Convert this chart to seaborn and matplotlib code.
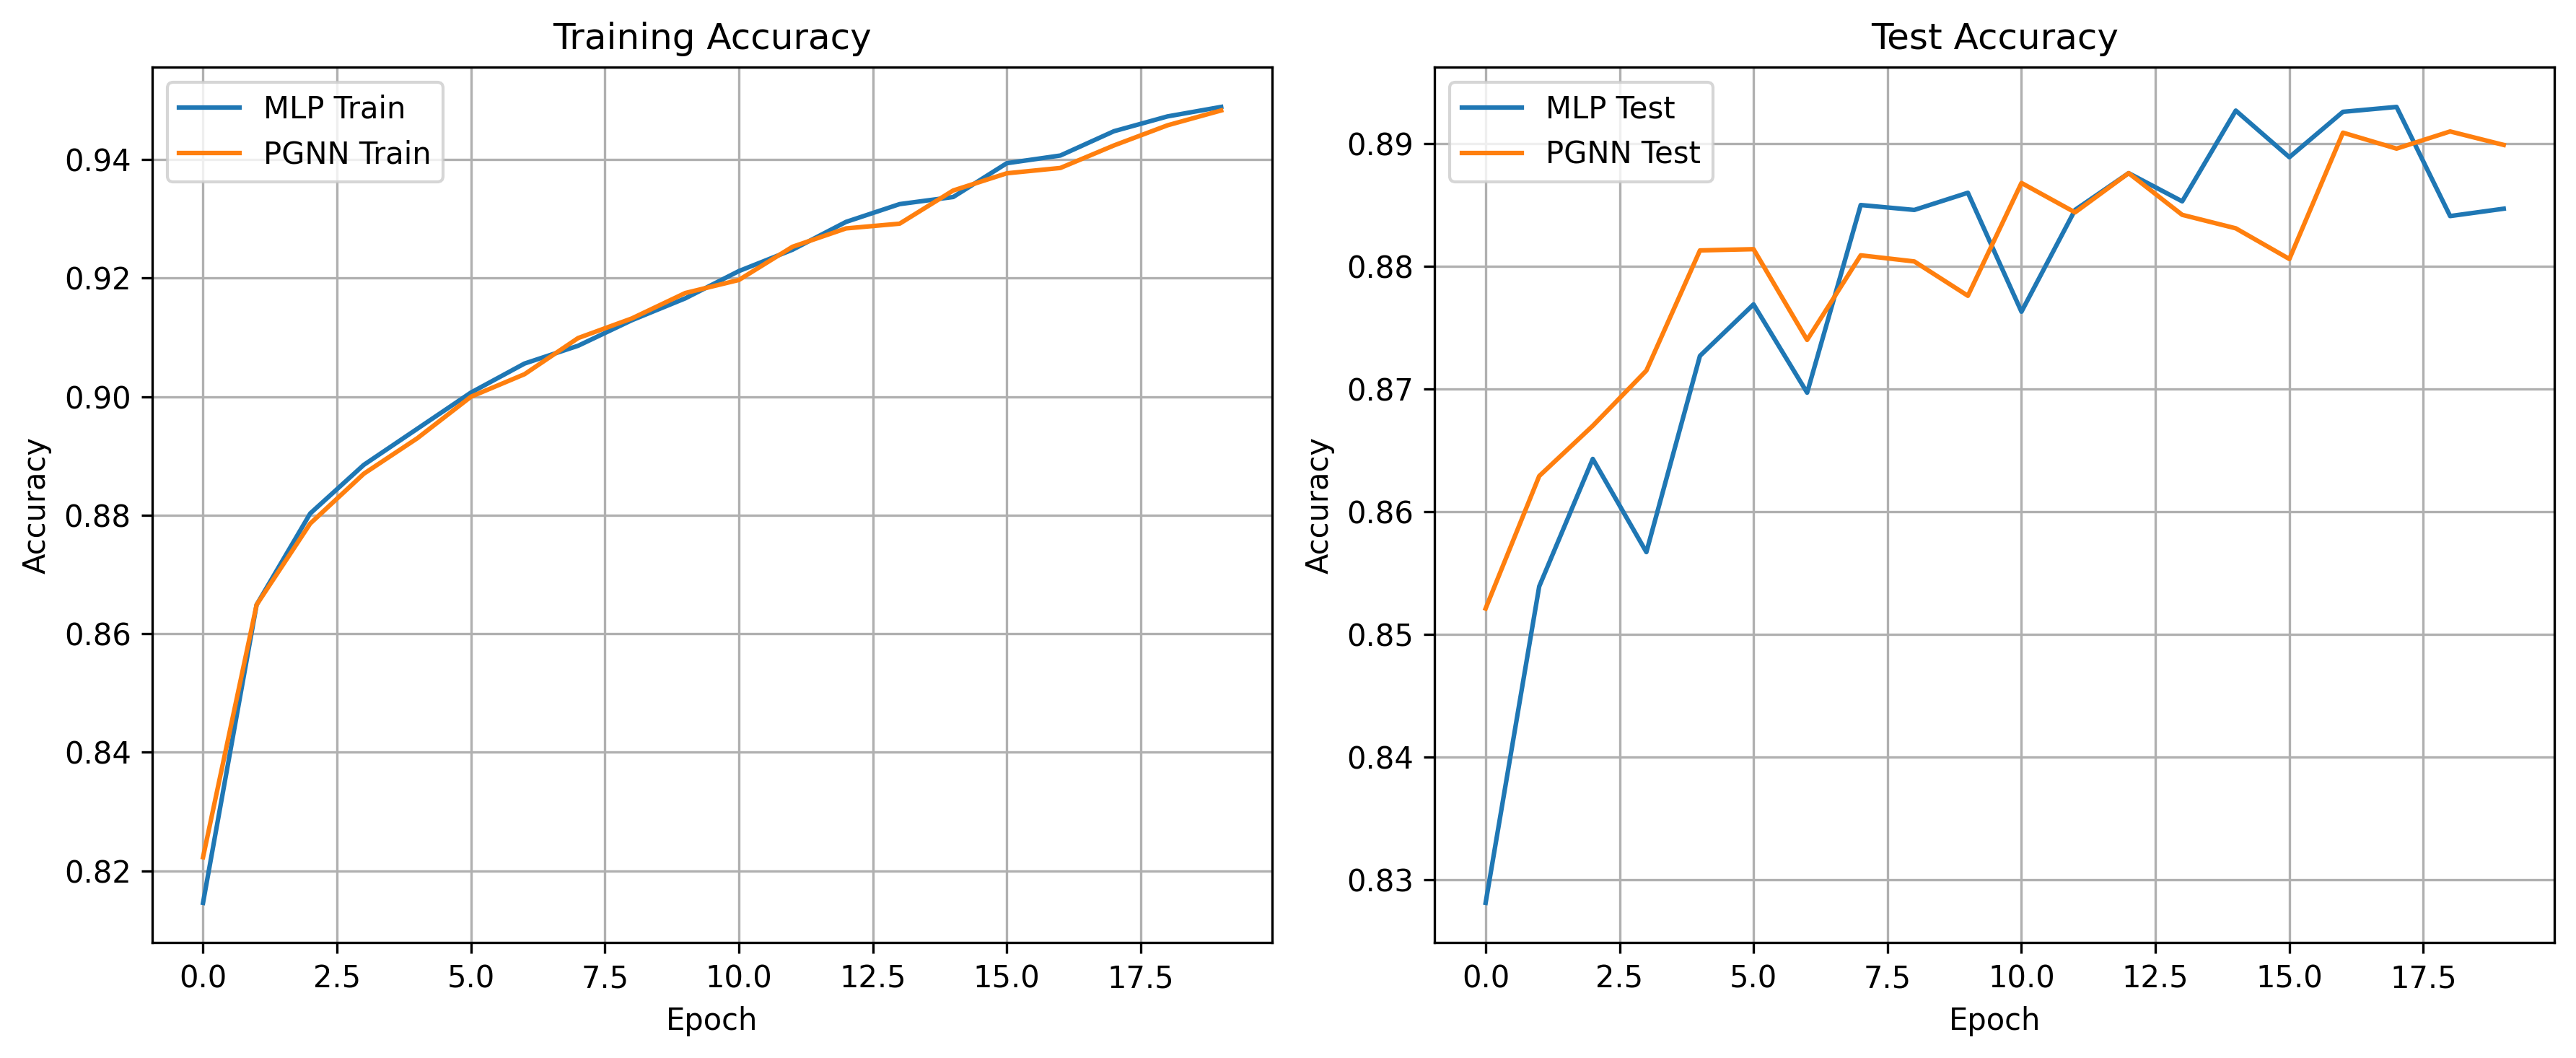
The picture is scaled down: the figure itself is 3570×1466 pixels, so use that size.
import numpy as np
import seaborn as sns
import matplotlib
matplotlib.use('Agg')
import matplotlib.pyplot as plt

epochs = list(range(20))

mlp_train = [0.8146, 0.8649, 0.8803, 0.8885, 0.8946, 0.9007, 0.9056, 0.9086, 0.9129, 0.9166,
             0.9212, 0.9248, 0.9295, 0.9325, 0.9337, 0.9394, 0.9407, 0.9448, 0.9473, 0.9489]
pgnn_train = [0.8223, 0.8649, 0.8786, 0.8870, 0.8930, 0.9000, 0.9038, 0.9099, 0.9132, 0.9175,
              0.9197, 0.9253, 0.9284, 0.9292, 0.9348, 0.9377, 0.9386, 0.9424, 0.9458, 0.9483]

mlp_test = [0.8281, 0.8539, 0.8643, 0.8567, 0.8727, 0.8769, 0.8697, 0.8850, 0.8846, 0.8860,
            0.8763, 0.8846, 0.8876, 0.8853, 0.8927, 0.8889, 0.8926, 0.8930, 0.8841, 0.8847]
pgnn_test = [0.8521, 0.8629, 0.8670, 0.8715, 0.8813, 0.8814, 0.8740, 0.8809, 0.8804, 0.8776,
             0.8868, 0.8844, 0.8876, 0.8842, 0.8831, 0.8806, 0.8909, 0.8896, 0.8910, 0.8899]

fig, axes = plt.subplots(1, 2, figsize=(12, 5))

# training
ax = axes[0]
sns.lineplot(x=epochs, y=mlp_train, label='MLP Train', color='tab:blue', ax=ax)
sns.lineplot(x=epochs, y=pgnn_train, label='PGNN Train', color='tab:orange', ax=ax)
ax.set_title('Training Accuracy')
ax.set_xlabel('Epoch')
ax.set_ylabel('Accuracy')
ax.legend(loc='upper left')
ax.grid(True)

# test
ax = axes[1]
sns.lineplot(x=epochs, y=mlp_test, label='MLP Test', color='tab:blue', ax=ax)
sns.lineplot(x=epochs, y=pgnn_test, label='PGNN Test', color='tab:orange', ax=ax)
ax.set_title('Test Accuracy')
ax.set_xlabel('Epoch')
ax.set_ylabel('Accuracy')
ax.legend(loc='upper left')
ax.grid(True)

plt.tight_layout()
plt.savefig('out.png', dpi=300, bbox_inches='tight')
